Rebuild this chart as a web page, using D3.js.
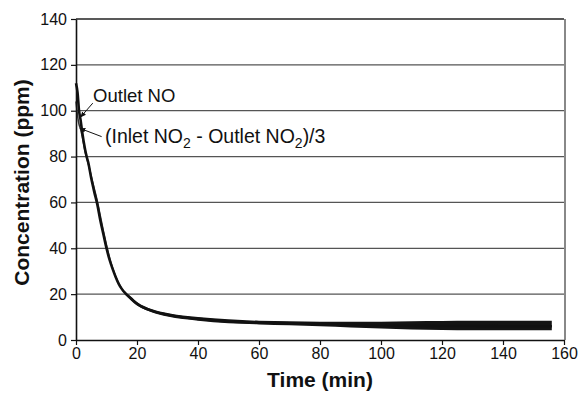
<!DOCTYPE html>
<html>
<head>
<meta charset="utf-8">
<script src="https://cdn.jsdelivr.net/npm/d3@7"></script>
<style>
  body { margin: 0; background: #fff; }
  svg { display: block; font-family: "Liberation Sans", Arial, sans-serif; }
</style>
</head>
<body>
<div id="chart"></div>
<script>
// time in minutes, concentration in ppm
const time = [0, 0.5, 1, 1.5, 2, 3, 3.5, 4, 5, 6, 7, 8, 9, 10, 11, 12, 13, 14, 15, 16, 18, 20, 22, 25, 30, 35, 40, 50, 60, 70, 80, 90, 100, 110, 120, 130, 140, 150, 156];
const outletNO = [112, 108, 100, 96, 91, 83, 80, 77.5, 70.5, 64.5, 59, 52, 46, 40, 35, 31, 27.5, 24.5, 22.3, 20.6, 18.2, 15.8, 14.2, 12.7, 11, 9.9, 9.2, 8.1, 7.6, 7.3, 7, 6.6, 6.3, 6.2, 6.1, 6.1, 6, 6, 6];
const no2Diff = [104, 98, 94, 92, 89, 82, 79.5, 77, 71.5, 66, 60.5, 54, 47.5, 41.5, 36, 31.5, 27.8, 24.7, 22.4, 20.6, 18.2, 15.8, 14.2, 12.7, 11, 9.9, 9.2, 8.1, 7.6, 7.3, 7, 6.6, 6.3, 6.2, 6.1, 6.1, 6, 6, 6];

// noise envelope of the two traces in the long tail
const tailTime = [16, 20, 25, 30, 40, 50, 60, 70, 80, 90, 100, 110, 120, 130, 140, 150, 156];
const tailLow = [19.8, 15, 12, 10.2, 8.4, 7.3, 6.8, 6.4, 6.0, 5.5, 5.0, 4.6, 4.4, 4.3, 4.2, 4.2, 4.2];
const tailHigh = [21.4, 16.6, 13.4, 11.8, 10.0, 9.0, 8.4, 8.2, 8.0, 8.0, 8.0, 8.2, 8.3, 8.4, 8.4, 8.4, 8.4];

const xTicks = [0, 20, 40, 60, 80, 100, 120, 140, 160];
const yTicks = [0, 20, 40, 60, 80, 100, 120, 140];

const W = 586, H = 397;
const PLOT = { LEFT: 76, RIGHT: 564, TOP: 19, BOTTOM: 340 };

const svg = d3.select("#chart").append("svg")
  .attr("width", W)
  .attr("height", H);

svg.append("rect").attr("width", W).attr("height", H).attr("fill", "#fff");

const x = d3.scaleLinear().domain([0, 160]).range([PLOT.LEFT, PLOT.RIGHT]);
const y = d3.scaleLinear().domain([0, 140]).range([PLOT.BOTTOM, PLOT.TOP]);

// gridlines
svg.append("g")
  .selectAll("line")
  .data(yTicks.filter(d => d > 0))
  .enter()
  .append("line")
  .attr("x1", PLOT.LEFT)
  .attr("x2", PLOT.RIGHT)
  .attr("y1", d => y(d))
  .attr("y2", d => y(d))
  .attr("stroke", d => (d === 140 ? "#222" : "#555"))
  .attr("stroke-width", 1.3);

// right border of plot area
svg.append("line")
  .attr("x1", PLOT.RIGHT + 1)
  .attr("x2", PLOT.RIGHT + 1)
  .attr("y1", PLOT.TOP)
  .attr("y2", PLOT.BOTTOM)
  .attr("stroke", "#888")
  .attr("stroke-width", 2);

// noisy tail band
const band = d3.area()
  .x((d, i) => x(tailTime[i]))
  .y0((d, i) => y(tailLow[i]))
  .y1((d, i) => y(tailHigh[i]))
  .curve(d3.curveMonotoneX);

svg.append("path")
  .datum(tailTime)
  .attr("d", band)
  .attr("fill", "#141414");

const line = d3.line()
  .x((d, i) => x(time[i]))
  .y(d => y(d))
  .curve(d3.curveMonotoneX);

svg.append("path")
  .datum(no2Diff)
  .attr("d", line)
  .attr("fill", "none")
  .attr("stroke", "#333")
  .attr("stroke-width", 1.5);

svg.append("path")
  .datum(outletNO)
  .attr("d", line)
  .attr("fill", "none")
  .attr("stroke", "#111")
  .attr("stroke-width", 2.6);

// axes
const xAxis = svg.append("g")
  .attr("transform", `translate(0, ${PLOT.BOTTOM})`)
  .call(d3.axisBottom(x).tickValues(xTicks).tickSize(5).tickSizeOuter(0).tickPadding(3));

const yAxis = svg.append("g")
  .attr("transform", `translate(${PLOT.LEFT}, 0)`)
  .call(d3.axisLeft(y).tickValues(yTicks).tickSize(5).tickSizeOuter(0).tickPadding(4));

[xAxis, yAxis].forEach(g => {
  g.select(".domain").attr("stroke", "#111").attr("stroke-width", 1.6);
  g.selectAll(".tick line").attr("stroke", "#111").attr("stroke-width", 1.2);
  g.selectAll(".tick text")
    .attr("fill", "#111")
    .style("font-size", "16px")
    .style("font-family", '"Liberation Sans", Arial, sans-serif');
});

// axis titles
svg.append("text")
  .attr("x", (PLOT.LEFT + PLOT.RIGHT) / 2)
  .attr("y", 387)
  .attr("text-anchor", "middle")
  .style("font-size", "21px")
  .style("font-weight", "bold")
  .attr("fill", "#111")
  .text("Time (min)");

svg.append("text")
  .attr("transform", `translate(29, ${(PLOT.TOP + PLOT.BOTTOM) / 2 + 3}) rotate(-90)`)
  .attr("text-anchor", "middle")
  .style("font-size", "21px")
  .style("font-weight", "bold")
  .attr("fill", "#111")
  .text("Concentration (ppm)");

// annotations
const defs = svg.append("defs");
defs.append("marker")
  .attr("id", "arrow")
  .attr("viewBox", "0 0 10 10")
  .attr("refX", 9)
  .attr("refY", 5)
  .attr("markerWidth", 6)
  .attr("markerHeight", 6)
  .attr("orient", "auto")
  .append("path")
  .attr("d", "M0,1 L10,5 L0,9 Z")
  .attr("fill", "#111");

svg.append("line")
  .attr("x1", x(5.5)).attr("y1", y(103.3))
  .attr("x2", x(1.5)).attr("y2", y(97.2))
  .attr("stroke", "#111").attr("stroke-width", 1)
  .attr("marker-end", "url(#arrow)");

svg.append("line")
  .attr("x1", x(8.4)).attr("y1", y(88.7))
  .attr("x2", x(1.3)).attr("y2", y(92.3))
  .attr("stroke", "#111").attr("stroke-width", 1)
  .attr("marker-end", "url(#arrow)");

svg.append("text")
  .attr("x", x(5.6))
  .attr("y", y(103.8))
  .style("font-size", "18.5px")
  .attr("fill", "#111")
  .text("Outlet NO");

const lbl = svg.append("text")
  .attr("x", x(9.5))
  .attr("y", y(85.8))
  .style("font-size", "19.5px")
  .attr("fill", "#111");
lbl.append("tspan").text("(Inlet NO");
lbl.append("tspan").attr("dy", 5).style("font-size", "14px").text("2");
lbl.append("tspan").attr("dy", -5).text(" - Outlet NO");
lbl.append("tspan").attr("dy", 5).style("font-size", "14px").text("2");
lbl.append("tspan").attr("dy", -5).text(")/3");
</script>
</body>
</html>
